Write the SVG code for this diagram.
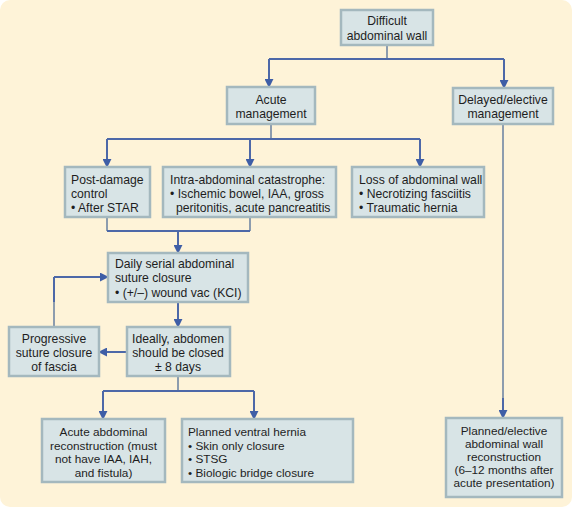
<svg xmlns="http://www.w3.org/2000/svg" width="572" height="507" viewBox="0 0 572 507">
<defs>
<style>
.bx{fill:#d8e4e6;stroke:#a4b8be;stroke-width:2.5}
.t{font-family:"Liberation Sans",Arial,sans-serif;font-size:12.2px;fill:#1e1e1e}
.s{font-size:11.8px}
.c{text-anchor:middle}
.g{fill:none;stroke:#8d9cae;stroke-width:2}
.b{fill:none;stroke:#4d68a8;stroke-width:2}
.bar{fill:none;stroke:#4d68a8;stroke-width:2;marker-end:url(#ah)}
</style>
<marker id="ah" viewBox="0 0 10 10" refX="9" refY="5" markerWidth="4.5" markerHeight="4.5" orient="auto" markerUnits="strokeWidth">
<path d="M0,0 L10,5 L0,10 z" fill="#3f5ea6"/>
</marker>
</defs>
<rect x="0" y="0" width="572" height="507" rx="10" fill="#fef3d8"/>
<g id="connectors">
<path class="g" d="M387,45 V59"/>
<path class="b" d="M269,59 H504"/>
<path class="bar" d="M269,59 V87"/>
<path class="bar" d="M504,59 V88"/>
<path class="g" d="M271,124 V139"/>
<path class="b" d="M107,139 H420"/>
<path class="bar" d="M107,139 V167"/>
<path class="bar" d="M250,139 V167"/>
<path class="bar" d="M420,139 V167"/>
<path class="g" d="M107,217 V231 M250,217 V231"/>
<path class="b" d="M107,231 H250"/>
<path class="bar" d="M178,231 V253"/>
<path class="bar" d="M178,302 V327"/>
<path class="bar" d="M127,352 H99"/>
<path class="g" d="M54,327 V300"/>
<path class="b" d="M54,302 V277"/>
<path class="bar" d="M54,277 H108"/>
<path class="g" d="M178,376 V391"/>
<path class="b" d="M103,391 H254"/>
<path class="bar" d="M103,391 V419"/>
<path class="bar" d="M254,391 V419"/>
<path class="g" d="M503,124 V400"/>
<path class="bar" d="M503,398 V418"/>
</g>
<g id="n-difficult">
<rect class="bx" x="341" y="10" width="92" height="35"/>
<text class="t c" x="387" y="25">Difficult</text>
<text class="t c" x="387" y="40">abdominal wall</text>
</g>
<g id="n-acute">
<rect class="bx" x="227" y="87" width="88" height="37"/>
<text class="t c" x="271" y="104">Acute</text>
<text class="t c" x="271" y="118">management</text>
</g>
<g id="n-delayed">
<rect class="bx" x="453" y="88" width="100" height="36"/>
<text class="t c" x="503" y="104">Delayed/elective</text>
<text class="t c" x="503" y="118">management</text>
</g>
<g id="n-postdamage">
<rect class="bx" x="65" y="167" width="85" height="50"/>
<text class="t" x="71" y="184">Post-damage</text>
<text class="t" x="71" y="198">control</text>
<text class="t" x="71" y="212">• After STAR</text>
</g>
<g id="n-intra">
<rect class="bx" x="163" y="167" width="173" height="50"/>
<text class="t" x="170" y="184">Intra-abdominal catastrophe:</text>
<text class="t" x="170" y="198">• Ischemic bowel, IAA, gross</text>
<text class="t" x="176" y="212">peritonitis, acute pancreatitis</text>
</g>
<g id="n-loss">
<rect class="bx" x="352" y="167" width="132" height="50"/>
<text class="t" x="359" y="184">Loss of abdominal wall</text>
<text class="t" x="359" y="198">• Necrotizing fasciitis</text>
<text class="t" x="359" y="212">• Traumatic hernia</text>
</g>
<g id="n-daily">
<rect class="bx" x="108" y="253" width="140" height="49"/>
<text class="t" x="115" y="268">Daily serial abdominal</text>
<text class="t" x="115" y="282">suture closure</text>
<text class="t" x="115" y="297">• (+/–) wound vac (KCI)</text>
</g>
<g id="n-ideally">
<rect class="bx" x="127" y="327" width="103" height="49"/>
<text class="t c" x="178" y="343">Ideally, abdomen</text>
<text class="t c" x="178" y="357">should be closed</text>
<text class="t c" x="178" y="371">± 8 days</text>
</g>
<g id="n-progressive">
<rect class="bx" x="9" y="327" width="90" height="49"/>
<text class="t c" x="54" y="343">Progressive</text>
<text class="t c" x="54" y="357">suture closure</text>
<text class="t c" x="54" y="371">of fascia</text>
</g>
<g id="n-acuterecon">
<rect class="bx" x="42" y="419" width="123" height="63"/>
<text class="t s c" x="103.5" y="436">Acute abdominal</text>
<text class="t s c" x="103.5" y="449.5">reconstruction (must</text>
<text class="t s c" x="103.5" y="463">not have IAA, IAH,</text>
<text class="t s c" x="103.5" y="476.5">and fistula)</text>
</g>
<g id="n-ventral">
<rect class="bx" x="182" y="419" width="171" height="63"/>
<text class="t s" x="188" y="436">Planned ventral hernia</text>
<text class="t s" x="188" y="449.5">• Skin only closure</text>
<text class="t s" x="188" y="463">• STSG</text>
<text class="t s" x="188" y="476.5">• Biologic bridge closure</text>
</g>
<g id="n-elective">
<rect class="bx" x="446" y="418" width="116" height="79"/>
<text class="t s c" x="504" y="435">Planned/elective</text>
<text class="t s c" x="504" y="448">abdominal wall</text>
<text class="t s c" x="504" y="461">reconstruction</text>
<text class="t s c" x="504" y="474">(6–12 months after</text>
<text class="t s c" x="504" y="487">acute presentation)</text>
</g>
</svg>
